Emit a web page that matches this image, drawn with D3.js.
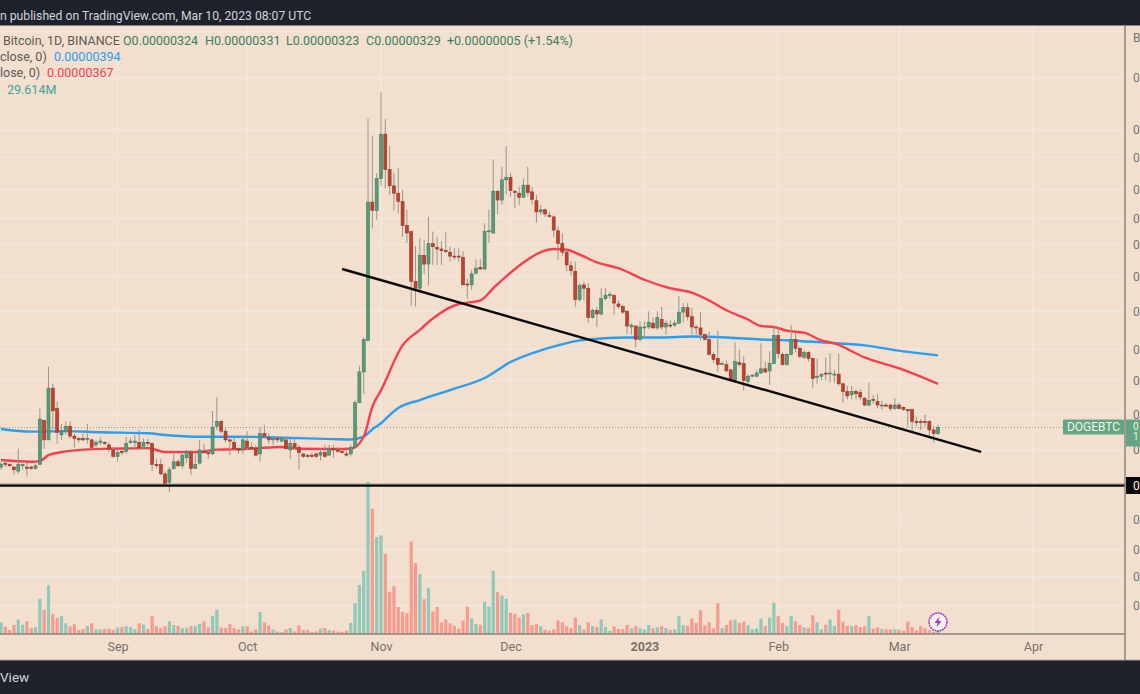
<!DOCTYPE html>
<html><head><meta charset="utf-8">
<script src="https://cdn.jsdelivr.net/npm/d3@7/dist/d3.min.js"></script>
<style>html,body{margin:0;padding:0;background:#f2dfce;overflow:hidden}svg{display:block}text{font-family:Roboto,Inter,sans-serif}</style>
</head><body><svg id="c" width="1140" height="694"></svg>
<script>
// Daily candles from 5 Aug 2022, prices in 1e-8 BTC
const firstDay = "2022-08-05";
const opens = [298,301,300,298,295,299,298,298,297,300,
335,319,363,345,323,326,330,322,320,320,
320,319,315,317,317,315,311,306,310,310,
317,317,317,314,317,316,300,300,293,287,
297,302,299,305,309,297,301,310,309,308,
330,334,326,319,317,312,311,318,313,312,
308,324,321,319,320,318,319,311,316,313,
308,307,307,308,307,309,307,312,311,310,
308,308,313,350,378,409,578,566,613,685,
627,602,591,579,545,537,474,466,506,495,
521,516,514,512,510,505,505,503,471,470,
484,491,489,537,535,594,581,611,615,594,
591,585,603,593,580,564,567,559,557,538,
521,510,493,486,453,470,466,433,441,437,
454,458,458,448,445,440,423,424,410,422,
423,427,422,431,423,425,425,427,439,444,
434,423,422,415,410,395,391,385,385,380,
369,387,386,369,374,374,377,381,379,386,
414,395,385,395,410,401,392,397,391,373,
374,377,377,376,376,367,360,357,360,359,
354,348,353,351,348,348,348,345,348,346,
344,344,334,334,334,334,327,324];
const highs = [302,303,301,299,312,300,301,299,300,345,
335,383,367,351,332,334,334,324,321,324,
332,320,319,321,318,317,313,311,311,321,
321,323,327,320,320,317,304,304,295,298,
308,304,308,311,311,308,319,316,311,343,
355,335,328,320,321,313,321,326,317,315,
329,331,324,321,322,322,321,320,320,315,
308,308,309,309,312,315,315,315,313,311,
310,315,352,384,412,712,682,621,761,711,
665,621,629,596,567,537,518,528,526,557,
537,530,524,536,517,515,515,511,477,488,
501,501,548,567,643,595,631,665,622,596,
601,613,631,601,588,574,569,564,559,544,
535,513,499,498,472,474,472,443,445,466,
466,462,458,452,447,441,427,425,429,429,
440,433,440,445,430,430,430,457,449,449,
444,425,439,416,418,397,419,388,389,381,
407,400,393,376,376,380,406,388,398,422,
422,397,396,425,416,403,399,398,392,391,
376,392,396,380,396,368,365,365,362,362,
355,368,357,358,352,350,349,354,350,347,
344,345,338,336,340,335,330,331];
const lows = [296,298,298,292,293,296,291,296,296,300,
312,319,327,316,319,323,320,313,317,318,
316,312,313,315,315,309,305,302,307,308,
316,313,311,312,314,295,297,292,285,280,
296,298,297,301,292,297,300,308,304,307,
327,324,317,307,311,308,308,311,311,306,
302,320,316,315,317,317,311,304,311,296,
305,305,305,305,303,305,307,305,309,308,
306,306,313,350,358,408,541,553,602,598,
589,566,562,530,522,446,445,460,483,469,
494,494,494,509,498,500,498,470,454,464,
482,488,488,522,534,561,574,589,586,569,
574,584,586,574,549,560,557,556,530,500,
505,486,481,445,451,452,427,432,423,435,
452,454,436,443,437,416,415,402,408,411,
421,421,420,420,415,422,423,427,428,430,
415,415,409,409,394,387,378,385,378,369,
368,383,361,366,373,373,376,377,366,386,
391,384,384,394,397,391,391,388,363,367,
370,370,368,368,365,350,353,353,353,352,
347,347,349,345,344,347,343,344,344,343,
330,326,330,327,330,320,317,323];
const closes = [300,300,299,296,300,300,297,297,299,336,
319,363,343,325,326,330,322,320,319,319,
320,313,317,318,316,312,306,309,309,316,
318,318,313,317,316,300,299,293,286,296,
302,299,307,310,297,300,311,309,308,329,
334,326,319,318,312,311,319,313,312,307,
324,322,319,320,319,320,312,316,313,309,
306,306,306,306,309,306,312,311,310,309,
307,313,350,378,410,578,566,613,685,627,
602,591,579,545,535,474,466,506,495,521,
517,514,512,511,505,504,504,470,470,483,
490,489,537,538,594,581,611,615,595,592,
585,603,592,582,564,567,561,558,539,521,
510,494,487,453,469,466,433,441,437,454,
458,459,449,445,439,424,425,410,423,423,
428,422,433,423,427,424,427,439,444,434,
423,422,415,410,395,390,385,386,379,370,
388,385,370,374,375,377,381,378,386,414,
396,385,395,410,401,393,397,391,372,374,
376,376,377,376,367,360,356,360,358,355,
348,352,352,348,348,347,345,348,345,344,
343,334,333,333,333,327,324,329];
// Volume in millions
const volumes = [80,51,28,62,99,64,87,41,46,242,
166,336,138,110,124,74,53,67,28,35,
55,74,32,32,37,37,28,44,48,53,
48,32,74,64,35,122,53,41,53,87,
62,55,39,44,55,55,71,87,46,124,
168,44,41,69,41,32,53,53,18,32,
152,80,58,32,18,12,32,41,18,60,
28,28,12,18,37,41,28,23,16,14,
23,76,212,338,435,1047,863,667,679,552,
288,329,186,152,143,637,488,412,239,315,
156,186,80,101,74,58,37,92,189,106,
69,64,223,189,435,290,265,242,145,138,
115,136,145,62,69,53,30,23,32,94,
80,53,41,113,62,32,80,55,48,101,
48,21,53,35,35,62,39,55,41,30,
62,39,46,55,41,28,32,122,60,55,
106,76,163,60,80,39,212,41,62,94,
99,76,85,60,32,39,106,55,113,214,
124,76,55,124,87,62,46,41,129,80,
32,64,99,55,168,85,55,55,60,48,
53,124,37,46,35,32,30,32,30,23,
85,48,25,55,41,25,14,30];
// 200-day average: day offset, value
const blueDays = [0,7,15,23,34,38,46,54,62,69,77,81,84,86,88,90,92,97,104,112,118,125,129,134,139,145,153,160,168,176,183,190,200,209,217];
const blueValues = [327.8,325.6,326,325.1,324.3,322.9,321.5,321.5,321.2,320.4,319.6,319.3,321.5,327.5,332.5,339.4,345.4,352.4,361.3,372.3,387.5,399,404,409,411,412,412,413,412,410,409,407,404,398,394];
// 50-day average: day offset, value
const redDays = [0,7,9,11,15,20,25,31,34,38,42,46,50,54,62,65,69,77,81,84,86,88,93,97,100,106,108,111,114,117,121,125,128,131,134,138,143,149,155,160,164,168,173,176,179,182,186,190,193,200,209,217];
const redValues = [303.3,302,302.5,307,309.9,311.5,312,312.3,312.5,309.5,309.5,309.5,311.3,311.5,312.9,313.4,312,311.8,312,321.5,346.5,361,404,420,432,448,449.5,452,466,480,497,510,514,513,507,497,490,476,466,461,452,441,431,424,423,419,417,409,406,392,380,367];
const trendDays = [79,227], trendValues = [489,309.6];
const supportLevel = 284.6, lastPrice = 329;
const priceTicks = [311,340,370,400,440,480,520,555,596,646,692,788,885];
const priceLabelTicks = [311,340,370,400,440,480,520,555,596,646,692,788];
const volumeTicks = [193,393,579,785];
const monthTicks = [["2022-09-01","Sep"],["2022-10-01","Oct"],["2022-11-01","Nov"],["2022-12-01","Dec"],["2023-01-01","2023"],["2023-02-01","Feb"],["2023-03-01","Mar"],["2023-04-01","Apr"]];

const C = {bg:"#f2dfce",dark:"#1e222d",grid:"#f0e8df",axis:"#8a8379",up:"#5a9a78",upS:"#3f7d5d",dn:"#c43f2e",dnS:"#8f3b2a",wick:"#9a958c",
 volUp:"#8fc9b8",volDn:"#f79b90",blue:"#2c9df0",red:"#f7404f",label:"#64a683"};
const svg = d3.select("#c");
const parse = d3.utcParse("%Y-%m-%d");
const start = parse(firstDay);
const day = i => d3.utcDay.offset(start,i);
const x = d3.scaleUtc().domain([start, day(217)]).range([1,938]);
const y = d3.scaleLog().domain([329,894.3]).range([427.5,27.5]);
const yv = d3.scaleLinear().domain([0,1047]).range([634,482]);
const W = 1125;

svg.append("rect").attr("width",1140).attr("height",694).attr("fill",C.bg);

// grid
const grid = svg.append("g").attr("stroke",C.grid).attr("stroke-width",1.5);
monthTicks.forEach(m=>{const X=x(parse(m[0]));grid.append("line").attr("x1",X).attr("x2",X).attr("y1",26).attr("y2",634);});
priceTicks.forEach(v=>grid.append("line").attr("x1",0).attr("x2",W).attr("y1",y(v)).attr("y2",y(v)));
volumeTicks.forEach(v=>grid.append("line").attr("x1",0).attr("x2",W).attr("y1",yv(v)).attr("y2",yv(v)));

// price line
svg.append("line").attr("x1",0).attr("x2",W).attr("y1",y(lastPrice)).attr("y2",y(lastPrice))
  .attr("stroke","#8fa08a").attr("stroke-dasharray","1 2");

// volume
const idx = d3.range(opens.length);
svg.append("g").selectAll("rect").data(idx).join("rect")
  .attr("x",i=>x(day(i))-1.6).attr("width",3.2)
  .attr("y",i=>yv(volumes[i])).attr("height",i=>634-yv(volumes[i]))
  .attr("fill",i=>closes[i]>=opens[i]?C.volUp:C.volDn);

// averages
const lineGen = d3.line().x(d=>x(day(d[0]))).y(d=>y(d[1])).curve(d3.curveMonotoneX);
svg.append("path").attr("d",lineGen(blueDays.map((d,i)=>[d,blueValues[i]]))).attr("fill","none").attr("stroke",C.blue).attr("stroke-width",2.4);
svg.append("path").attr("d",lineGen(redDays.map((d,i)=>[d,redValues[i]]))).attr("fill","none").attr("stroke",C.red).attr("stroke-width",2.4);

// candles
const cg = svg.append("g");
cg.selectAll("line").data(idx).join("line")
  .attr("x1",i=>x(day(i))).attr("x2",i=>x(day(i)))
  .attr("y1",i=>y(highs[i])).attr("y2",i=>y(lows[i]))
  .attr("stroke",C.wick).attr("stroke-width",1);
cg.selectAll("rect").data(idx).join("rect")
  .attr("x",i=>x(day(i))-1.5).attr("width",3)
  .attr("y",i=>y(Math.max(opens[i],closes[i])))
  .attr("height",i=>Math.max(1,Math.abs(y(opens[i])-y(closes[i]))))
  .attr("fill",i=>closes[i]>=opens[i]?C.up:C.dn)
  .attr("stroke",i=>closes[i]>=opens[i]?C.upS:C.dnS).attr("stroke-width",0.6);

// drawings
svg.append("line").attr("x1",x(day(trendDays[0]))).attr("x2",x(day(trendDays[1])))
  .attr("y1",y(trendValues[0])).attr("y2",y(trendValues[1])).attr("stroke","#0a0a0a").attr("stroke-width",2.4);
svg.append("line").attr("x1",0).attr("x2",W).attr("y1",y(supportLevel)).attr("y2",y(supportLevel))
  .attr("stroke","#0a0a0a").attr("stroke-width",2.4);

// time axis
const xAxis = d3.axisBottom(x).tickValues(monthTicks.map(m=>parse(m[0])))
  .tickFormat(d=>monthTicks.find(m=>+parse(m[0])===+d)[1]).tickSize(0).tickPadding(8);
const gx = svg.append("g").attr("transform","translate(0,634)").call(xAxis);
gx.select(".domain").remove();
gx.selectAll("text").attr("fill","#77726b").attr("font-size",12.5).attr("font-weight",d=>+d===+parse("2023-01-01")?700:400);
svg.append("line").attr("x1",0).attr("x2",W).attr("y1",634).attr("y2",634).attr("stroke",C.axis).attr("stroke-width",1.5);
svg.append("line").attr("x1",0).attr("x2",1140).attr("y1",484).attr("y2",484).attr("stroke",C.axis).attr("stroke-width",0.8);

// right axis (labels are cut by the edge of the frame in the picture)
const yAxis = d3.axisRight(y).tickValues(priceLabelTicks).tickFormat(()=>"0").tickSize(0).tickPadding(8);
const gy = svg.append("g").attr("transform",`translate(${W},0)`).call(yAxis);
gy.select(".domain").remove();
const yvAxis = d3.axisRight(yv).tickValues(volumeTicks).tickFormat(()=>"0").tickSize(0).tickPadding(8);
const gyv = svg.append("g").attr("transform",`translate(${W},0)`).call(yvAxis);
gyv.select(".domain").remove();
gy.selectAll("text").attr("fill","#77726b").attr("font-size",12);
gyv.selectAll("text").attr("fill","#77726b").attr("font-size",12);
svg.append("line").attr("x1",W).attr("x2",W).attr("y1",26).attr("y2",660).attr("stroke",C.axis).attr("stroke-width",1.5);
svg.append("text").attr("x",1133).attr("y",42).attr("font-size",12).attr("fill","#77726b").text("B");

// price labels
svg.append("rect").attr("x",1063).attr("y",419.5).attr("width",61).attr("height",15).attr("rx",1).attr("fill",C.label);
svg.append("text").attr("x",1093.5).attr("y",431).attr("text-anchor","middle").attr("font-size",12).attr("fill","#f4f1e9").text("DOGEBTC");
svg.append("rect").attr("x",1126).attr("y",419.5).attr("width",14).attr("height",27).attr("fill",C.label);
svg.append("text").attr("x",1133).attr("y",429.5).attr("font-size",10).attr("fill","#f4f1e9").text("0");
svg.append("text").attr("x",1133).attr("y",440).attr("font-size",10).attr("fill","#f4f1e9").text("1");
svg.append("rect").attr("x",1126).attr("y",477).attr("width",14).attr("height",17).attr("fill","#0a0a0a");
svg.append("text").attr("x",1133).attr("y",490).attr("font-size",12).attr("fill","#f4f1e9").text("0");

// header and footer bands
svg.append("rect").attr("width",1140).attr("height",25.5).attr("fill",C.dark);
svg.append("rect").attr("y",660).attr("width",1140).attr("height",34).attr("fill",C.dark);
svg.append("line").attr("x1",0).attr("x2",1140).attr("y1",660).attr("y2",660).attr("stroke","#a9a39b").attr("stroke-width",1);
svg.append("text").attr("x",0).attr("y",19.5).attr("font-size",12.2).attr("fill","#d1d4dc").text("n published on TradingView.com, Mar 10, 2023 08:07 UTC");
svg.append("text").attr("x",0).attr("y",682).attr("font-size",13.5).attr("fill","#d1d4dc").text("View");

// legend
const lg = svg.append("g").attr("font-size",12.5);
const t=(X,Y,s,c)=>lg.append("text").attr("x",X).attr("y",Y).attr("fill",c).text(s);
const vg="#3c7d62", tg="#5d5a55";
t(3,45,"Bitcoin, 1D, BINANCE",tg);
t(123,45,"O0.00000324",vg);t(205,45,"H0.00000331",vg);t(286,45,"L0.00000323",vg);t(366,45,"C0.00000329",vg);t(447,45,"+0.00000005 (+1.54%)",vg);
t(0,61,"close, 0)",tg);t(54,61,"0.00000394",C.blue);
t(0,77,"lose, 0)",tg);t(47,77,"0.00000367",C.red);
t(7,94,"29.614M","#3da69a");

// alert icon at the last bar
const ix=x(day(217)), ic=svg.append("g").attr("transform",`translate(${ix},622)`);
ic.append("circle").attr("r",9).attr("fill","#f7f1ee").attr("stroke","#a63fc6").attr("stroke-width",1.5).attr("stroke-dasharray","2 0.6");
ic.append("path").attr("d","M1.5,-5.5 L-3.5,1 L-0.5,1 L-1.5,5.5 L3.5,-1 L0.5,-1 Z").attr("fill","#a63fc6");
</script></body></html>
